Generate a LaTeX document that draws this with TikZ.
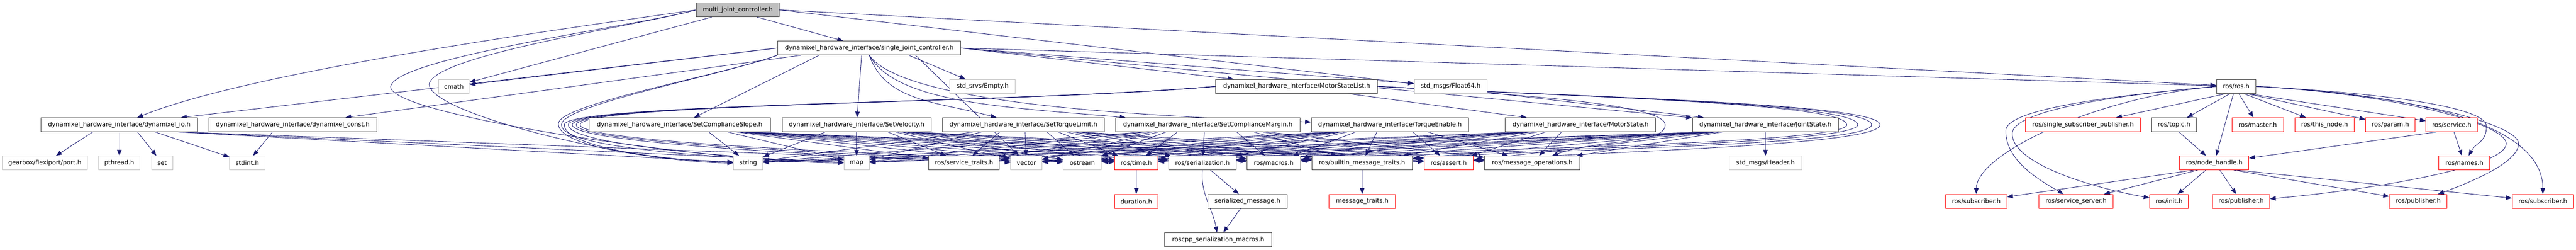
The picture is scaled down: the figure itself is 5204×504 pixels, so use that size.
\documentclass[tikz,border=0pt]{standalone}
\usepackage{fontspec}
\setmainfont{DejaVu Sans}
\usetikzlibrary{arrows.meta, backgrounds, calc}
\definecolor{depblue}{HTML}{191970}
\definecolor{hdrgray}{HTML}{BFBFBF}
\definecolor{hdrdark}{HTML}{404040}
% the picture is drawn at a quarter of the pixel size
\tikzset{
    hdr/.style={draw=hdrdark, fill=white, line width=0.25pt, minimum height=7pt,
        inner sep=0pt, font=\fontsize{3.1}{3.5}\selectfont},
    extHdr/.style={hdr, draw=hdrgray},
    truncHdr/.style={hdr, draw=red},
    rootHdr/.style={hdr, fill=hdrgray},
    dep/.style={draw=depblue, line width=0.23pt, -{Triangle[length=3pt,width=2.25pt]}},
}
% header box: name, centre x, centre y, width in pixels, style, text
\newcommand{\hdrbox}[6]{\node[#5, minimum width={#4*0.25pt}] (#1) at (#2,#3) {#6};}
% include edge, leaving the bottom of the including file
\newcommand{\incl}[2]{%
    \draw[dep] let \p1=(#1.south west), \p2=(#1.south east), \p3=(#2.center), \p4=(#1.center) in
        ({\x4+0.45*(\x2-\x1)*((\x3-\x4)/(abs(\x3-\x4)+62.5pt))},\y1) -- (#2);}

\begin{document}
\begin{tikzpicture}[x=0.25pt,y=-0.25pt]
    \def \rowa {20}
    \def \rowb {97}
    \def \rowc {174.5}
    \def \rowd {252}
    \def \rowe {329}
    \def \rowf {406.5}
    \def \rowg {484}
    \def \dhi {dynamixel\_hardware\_interface}
    \useasboundingbox (0,0) rectangle (5204,504);
    % files
    \hdrbox{mjc}{1490.5}{\rowa}{167}{rootHdr}{multi\_joint\_controller.h}
    \hdrbox{sjc}{1756}{\rowb}{370}{hdr}{\dhi/single\_joint\_controller.h}
    \hdrbox{cmath}{917}{\rowc}{62}{extHdr}{cmath}
    \hdrbox{empty}{1985}{\rowc}{132}{extHdr}{std\_srvs/Empty.h}
    \hdrbox{mslist}{2619.5}{\rowc}{327}{hdr}{\dhi/MotorStateList.h}
    \hdrbox{float64}{2930.5}{\rowc}{147}{extHdr}{std\_msgs/Float64.h}
    \hdrbox{rosh}{4517.5}{\rowc}{79}{hdr}{ros/ros.h}
    \hdrbox{io}{241}{\rowd}{316}{hdr}{\dhi/dynamixel\_io.h}
    \hdrbox{cst}{591.5}{\rowd}{339}{hdr}{\dhi/dynamixel\_const.h}
    \hdrbox{slope}{1373}{\rowd}{366}{hdr}{\dhi/SetComplianceSlope.h}
    \hdrbox{vel}{1730.5}{\rowd}{301}{hdr}{\dhi/SetVelocity.h}
    \hdrbox{tlim}{2067.5}{\rowd}{327}{hdr}{\dhi/SetTorqueLimit.h}
    \hdrbox{margin}{2440}{\rowd}{372}{hdr}{\dhi/SetComplianceMargin.h}
    \hdrbox{tenable}{2808}{\rowd}{318}{hdr}{\dhi/TorqueEnable.h}
    \hdrbox{mstate}{3193}{\rowd}{304}{hdr}{\dhi/MotorState.h}
    \hdrbox{jstate}{3566.5}{\rowd}{295}{hdr}{\dhi/JointState.h}
    \hdrbox{ssp}{4208}{\rowd}{232}{truncHdr}{ros/single\_subscriber\_publisher.h}
    \hdrbox{topic}{4392}{\rowd}{90}{hdr}{ros/topic.h}
    \hdrbox{master}{4561}{\rowd}{104}{truncHdr}{ros/master.h}
    \hdrbox{thisnode}{4696}{\rowd}{120}{truncHdr}{ros/this\_node.h}
    \hdrbox{param}{4829}{\rowd}{100}{truncHdr}{ros/param.h}
    \hdrbox{service}{4953}{\rowd}{104}{truncHdr}{ros/service.h}
    \hdrbox{port}{90.5}{\rowe}{171}{extHdr}{gearbox/flexiport/port.h}
    \hdrbox{pthread}{241}{\rowe}{84}{extHdr}{pthread.h}
    \hdrbox{set}{327.5}{\rowe}{43}{extHdr}{set}
    \hdrbox{stdint}{499.5}{\rowe}{71}{extHdr}{stdint.h}
    \hdrbox{string}{1511.5}{\rowe}{59}{extHdr}{string}
    \hdrbox{map}{1730.5}{\rowe}{51}{extHdr}{map}
    \hdrbox{straits}{1947.5}{\rowe}{143}{hdr}{ros/service\_traits.h}
    \hdrbox{vector}{2073.5}{\rowe}{63}{extHdr}{vector}
    \hdrbox{ostream}{2186.5}{\rowe}{77}{extHdr}{ostream}
    \hdrbox{time}{2295.5}{\rowe}{87}{truncHdr}{ros/time.h}
    \hdrbox{ser}{2429}{\rowe}{136}{hdr}{ros/serialization.h}
    \hdrbox{macros}{2573}{\rowe}{108}{hdr}{ros/macros.h}
    \hdrbox{bmt}{2751.5}{\rowe}{203}{hdr}{ros/builtin\_message\_traits.h}
    \hdrbox{assert}{2926.5}{\rowe}{99}{truncHdr}{ros/assert.h}
    \hdrbox{msgops}{3095.5}{\rowe}{193}{hdr}{ros/message\_operations.h}
    \hdrbox{header}{3566.5}{\rowe}{147}{extHdr}{std\_msgs/Header.h}
    \hdrbox{nodeh}{4473}{\rowe}{140}{truncHdr}{ros/node\_handle.h}
    \hdrbox{names}{4978.5}{\rowe}{103}{truncHdr}{ros/names.h}
    \hdrbox{duration}{2295.5}{\rowf}{87}{truncHdr}{duration.h}
    \hdrbox{smsg}{2520}{\rowf}{160}{hdr}{serialized\_message.h}
    \hdrbox{mtraits}{2752}{\rowf}{134}{truncHdr}{message\_traits.h}
    \hdrbox{subL}{3992.5}{\rowf}{123}{truncHdr}{ros/subscriber.h}
    \hdrbox{srvserver}{4194}{\rowf}{150}{truncHdr}{ros/service\_server.h}
    \hdrbox{init}{4382}{\rowf}{78}{truncHdr}{ros/init.h}
    \hdrbox{pubM}{4527.5}{\rowf}{115}{truncHdr}{ros/publisher.h}
    \hdrbox{pubR}{4885}{\rowf}{116}{truncHdr}{ros/publisher.h}
    \hdrbox{subR}{5137}{\rowf}{124}{truncHdr}{ros/subscriber.h}
    \hdrbox{rscm}{2461}{\rowg}{216}{hdr}{roscpp\_serialization\_macros.h}
    % bends of the long edges
    \coordinate (wMmap) at (789,175);
    \coordinate (wMstr) at (867,170);
    \coordinate (wS1) at (1128,250);
    \coordinate (wS2) at (1134,252);
    \coordinate (wL1) at (1140,252);
    \coordinate (wL2) at (1148,252);
    \coordinate (wL3) at (1156,252);
    \coordinate (wL4) at (1164,252);
    \coordinate (wL5) at (1172,252);
    \coordinate (wMs) at (3364,252);
    \coordinate (wR1) at (3731,252);
    \coordinate (wR2) at (3753,252);
    \coordinate (wR3) at (3781,252);
    \coordinate (wR4) at (3798,252);
    \coordinate (wSrv) at (4052,264);
    \coordinate (wInit) at (4065,270);
    \coordinate (wNames) at (5023,255);
    \coordinate (wPubM) at (5063,290);
    \coordinate (wPubR) at (5088,290);
    \begin{scope}[on background layer]
    % multi_joint_controller.h
    \draw[dep] (mjc.west) to[out=188,in=22,out distance=70pt,in distance=62pt] (io);
    \draw[dep] (mjc.west) to[out=195,in=80,out distance=32pt,in distance=15pt] (wMmap)
        to[out=-90,in=180,out distance=15pt,in distance=62pt] (map);
    \draw[dep] (mjc.west) to[out=195,in=80,out distance=32pt,in distance=15pt] (wMstr)
        to[out=-90,in=180,out distance=15pt,in distance=50pt] (string);
    \incl{mjc}{cmath}
    \incl{mjc}{sjc}
    \draw[dep] (mjc.east) -- (rosh);
    \draw[dep] (mjc.east) -- (jstate);
    % single_joint_controller.h
    \draw[dep] (sjc.west) -- (io);
    \incl{sjc}{cst}
    \draw[dep] (sjc.west) -- (cmath);
    \draw[dep] (sjc.south west) to[out=200,in=90,out distance=30pt,in distance=10pt] (wS1)
        to[out=-90,in=178,out distance=12pt,in distance=38pt] (string);
    \draw[dep] (sjc.south west) to[out=200,in=90,out distance=30pt,in distance=10pt] (wS2)
        to[out=-90,in=178,out distance=12pt,in distance=62pt] (map);
    \incl{sjc}{vector}
    \incl{sjc}{vel}
    \incl{sjc}{slope}
    \incl{sjc}{empty}
    \draw[dep] (sjc.south) to[out=-70,in=165,out distance=25pt,in distance=32pt] (tlim);
    \draw[dep] (sjc.south) to[out=-60,in=175,out distance=28pt,in distance=62pt] (margin);
    \draw[dep] (sjc.south) to[out=-55,in=178,out distance=30pt,in distance=88pt] (tenable);
    \draw[dep] (sjc.east) -- (mslist);
    \draw[dep] (sjc.east) -- (float64);
    \draw[dep] (sjc.east) -- (jstate);
    \draw[dep] (sjc.east) -- (rosh);
    % dynamixel_io.h, dynamixel_const.h
    \foreach \dst in {port,pthread,set,stdint,string,map,vector}
        \incl{io}{\dst};
    \incl{cst}{stdint}
    % generated services and messages
    \foreach \src in {slope,vel,tlim,margin,tenable}{
        \foreach \dst in {string,map,vector,ostream,time,ser,macros,bmt,assert,msgops,straits}
            \incl{\src}{\dst};
    }
    \foreach \src in {mstate,jstate}{
        \foreach \dst in {string,map,vector,ostream,time,ser,macros,bmt,assert,msgops}
            \incl{\src}{\dst};
    }
    \incl{jstate}{header}
    \incl{mslist}{mstate}
    \foreach \dst/\bend in {string/wL1,map/wL2,vector/wL3,ostream/wL4,time/wL5}
        \draw[dep] (mslist.west) to[out=185,in=90,out distance=100pt,in distance=11pt] (\bend)
            to[out=-90,in=178,out distance=11pt,in distance=38pt] (\dst);
    \draw[dep] (mslist.east) to[out=-3,in=90,out distance=75pt,in distance=10pt] (wMs)
        to[out=-90,in=20,out distance=10pt,in distance=25pt] (msgops);
    \foreach \dst/\bend in {ser/wR1,macros/wR2,bmt/wR3,assert/wR4}
        \draw[dep] (mslist.east) to[out=-3,in=90,out distance=100pt,in distance=11pt] (\bend)
            to[out=-90,in=5,out distance=11pt,in distance=50pt] (\dst);
    % ros
    \incl{time}{duration}
    \incl{ser}{smsg}
    \draw[dep] (ser.south) to[out=-95,in=100,out distance=12pt,in distance=12pt] (rscm);
    \incl{smsg}{rscm}
    \incl{bmt}{mtraits}
    \foreach \dst in {ssp,topic,master,thisnode,param,service,nodeh}
        \incl{rosh}{\dst};
    \draw[dep] (rosh.west) to[out=185,in=90,out distance=62pt,in distance=20pt] (subL);
    \draw[dep] (rosh.west) to[out=185,in=90,out distance=62pt,in distance=10pt] (wSrv)
        to[out=-90,in=150,out distance=15pt,in distance=15pt] (srvserver);
    \draw[dep] (rosh.west) to[out=185,in=90,out distance=65pt,in distance=10pt] (wInit)
        to[out=-90,in=170,out distance=15pt,in distance=30pt] (init);
    \draw[dep] (rosh.east) to[out=-3,in=90,out distance=62pt,in distance=10pt] (wNames)
        to[out=-90,in=60,out distance=8pt,in distance=8pt] (names);
    \draw[dep] (rosh.east) to[out=-3,in=90,out distance=70pt,in distance=10pt] (wPubM)
        to[out=-90,in=5,out distance=12pt,in distance=50pt] (pubM);
    \draw[dep] (rosh.east) to[out=-3,in=90,out distance=75pt,in distance=10pt] (wPubR)
        to[out=-90,in=20,out distance=10pt,in distance=15pt] (pubR);
    \draw[dep] (rosh.east) to[out=-3,in=90,out distance=100pt,in distance=30pt] (subR);
    \incl{topic}{nodeh}
    \incl{service}{nodeh}
    \incl{service}{names}
    \foreach \dst in {subL,srvserver,init,pubM,pubR,subR}
        \incl{nodeh}{\dst};
    \end{scope}
\end{tikzpicture}
\end{document}
